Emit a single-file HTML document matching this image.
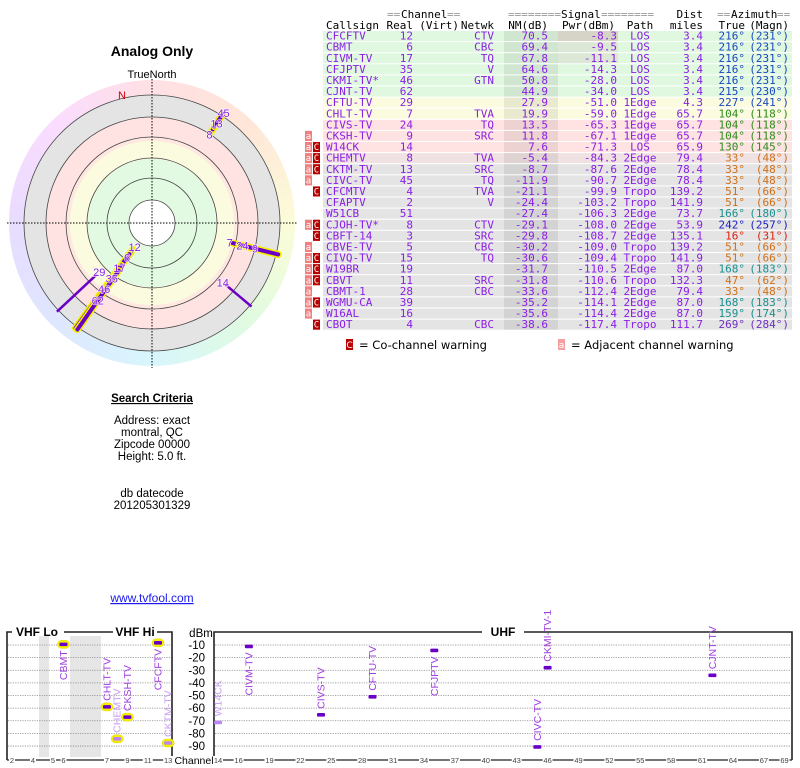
<!DOCTYPE html>
<html><head><meta charset="utf-8">
<style>
body{margin:0;background:#fff;width:800px;height:768px;overflow:hidden;position:relative;font-family:"Liberation Sans","DejaVu Sans",sans-serif}
#ring{position:absolute;left:9px;top:80px;width:286px;height:286px;border-radius:50%;
background:conic-gradient(from 0deg,#ffe0e4,#ffe6d8 45deg,#fbfcd8 90deg,#e0fbe0 135deg,#d8f6fc 180deg,#dfe6ff 225deg,#e8dcff 270deg,#fadcff 315deg,#ffe0e4 360deg)}
svg{position:absolute;left:0;top:0}
</style></head><body>
<div id="ring"></div>
<svg id="s" width="800" height="768"></svg>
<script>
const NS='http://www.w3.org/2000/svg';
const S=document.getElementById('s');
function el(t,a,p){const e=document.createElementNS(NS,t);for(const k in a)e.setAttribute(k,a[k]);(p||S).appendChild(e);return e;}
function tx(x,y,s,a,p){const e=el('text',Object.assign({x:x,y:y},a),p);e.textContent=s;return e;}

// ---------- table data ----------
const callsigns=["CFCFTV","CBMT","CIVM-TV","CFJPTV","CKMI-TV*","CJNT-TV","CFTU-TV","CHLT-TV","CIVS-TV","CKSH-TV","W14CK","CHEMTV","CKTM-TV","CIVC-TV","CFCMTV","CFAPTV","W51CB","CJOH-TV*","CBFT-14","CBVE-TV","CIVQ-TV","W19BR","CBVT","CBMT-1","WGMU-CA","W16AL","CBOT"];
const realCh=[12,6,17,35,46,62,29,7,24,9,14,8,13,45,4,2,51,8,3,5,15,19,11,28,39,16,4];
const netwk=["CTV","CBC","TQ","V","GTN","","","TVA","TQ","SRC","","TVA","SRC","TQ","TVA","V","","CTV","SRC","CBC","TQ","","SRC","CBC","","","CBC"];
const nmDb=[70.5,69.4,67.8,64.6,50.8,44.9,27.9,19.9,13.5,11.8,7.6,-5.4,-8.7,-11.9,-21.1,-24.4,-27.4,-29.1,-29.8,-30.2,-30.6,-31.7,-31.8,-33.6,-35.2,-35.6,-38.6];
const pwrDbm=[-8.3,-9.5,-11.1,-14.3,-28.0,-34.0,-51.0,-59.0,-65.3,-67.1,-71.3,-84.3,-87.6,-90.7,-99.9,-103.2,-106.3,-108.0,-108.7,-109.0,-109.4,-110.5,-110.6,-112.4,-114.1,-114.4,-117.4];
const pathType=["LOS","LOS","LOS","LOS","LOS","LOS","1Edge","1Edge","1Edge","1Edge","LOS","2Edge","2Edge","2Edge","Tropo","Tropo","2Edge","2Edge","2Edge","Tropo","Tropo","2Edge","Tropo","2Edge","2Edge","2Edge","Tropo"];
const distMi=[3.4,3.4,3.4,3.4,3.4,3.4,4.3,65.7,65.7,65.7,65.9,79.4,78.4,78.4,139.2,141.9,73.7,53.9,135.1,139.2,141.9,87.0,132.3,79.4,87.0,87.0,111.7];
const azTrue=[216,216,216,216,216,215,227,104,104,104,130,33,33,33,51,51,166,242,16,51,51,168,47,33,168,159,269];
const azMagn=[231,231,231,231,231,230,241,118,118,118,145,48,48,48,66,66,180,257,31,66,66,183,62,48,183,174,284];
const warnAdj=[0,0,0,0,0,0,0,0,0,1,1,1,1,1,0,0,0,1,0,1,1,1,1,1,1,1,0];
const warnCo=[0,0,0,0,0,0,0,0,0,0,1,1,1,0,1,0,0,1,1,0,1,1,1,0,1,0,1];

const MONO='"DejaVu Sans Mono","Liberation Mono",monospace';
const PURP='#8a1ee6';
function azColor(a){
  if(a>=200&&a<=235)return '#1848c0';
  if(a>=236&&a<=250)return '#2020c0';
  if(a>=90&&a<=140)return '#2e8c1c';
  if(a>=25&&a<=60)return '#d07018';
  if(a>=150&&a<=175)return '#1a9090';
  if(a<25)return '#e02010';
  return '#7030c0';
}
function rowBg(nm){if(nm>=40)return '#e0f8e0';if(nm>=15)return '#fafbdf';if(nm>=0)return '#ffe2e2';if(nm>=-8)return '#f0e2e2';return '#e4e4e4';}

// header
const hdr=el('g',{'font-family':MONO,'font-size':'11',});
tx(387,18,'==',{fill:'#999'},hdr);tx(401,18,'Channel',{fill:'#000'},hdr);tx(447,18,'==',{fill:'#999'},hdr);
tx(508,18,'========',{fill:'#999'},hdr);tx(561,18,'Signal',{fill:'#000'},hdr);tx(601,18,'========',{fill:'#999'},hdr);
tx(703,18,'Dist',{'text-anchor':'end',fill:'#000'},hdr);
tx(717,18,'==',{fill:'#999'},hdr);tx(731,18,'Azimuth',{fill:'#000'},hdr);tx(777,18,'==',{fill:'#999'},hdr);
tx(326,29,'Callsign',{fill:'#000'},hdr);tx(413,29,'Real',{'text-anchor':'end'},hdr);tx(459,29,'(Virt)',{'text-anchor':'end'},hdr);
tx(494,29,'Netwk',{'text-anchor':'end'},hdr);tx(548,29,'NM(dB)',{'text-anchor':'end'},hdr);tx(615,29,'Pwr(dBm)',{'text-anchor':'end'},hdr);
tx(640,29,'Path',{'text-anchor':'middle'},hdr);tx(703,29,'miles',{'text-anchor':'end'},hdr);
tx(745,29,'True',{'text-anchor':'end'},hdr);tx(789,29,'(Magn)',{'text-anchor':'end'},hdr);

const TOP=31,RH=11.1;
for(let i=0;i<callsigns.length;i++){
  const y=TOP+i*RH;
  const g=el('g',{'font-family':MONO,'font-size':'11'});
  
  
  el('rect',{x:323,y:y,width:469,height:RH-1,fill:rowBg(nmDb[i])},g);
  el('rect',{x:504,y:y,width:54,height:RH-1,fill:'#000','fill-opacity':'0.07'},g);
  if(i<3)el('rect',{x:558,y:y,width:60,height:RH-1,fill:i==0?'#c8a8a8':'#d8c0c0','fill-opacity':i==0?'0.45':'0.3'},g);
  const by=y+8.6;
  tx(326,by,callsigns[i],{fill:PURP},g);
  tx(413,by,String(realCh[i]),{fill:PURP,'text-anchor':'end'},g);
  tx(494,by,netwk[i],{fill:PURP,'text-anchor':'end'},g);
  tx(548,by,nmDb[i].toFixed(1),{fill:PURP,'text-anchor':'end'},g);
  tx(617,by,pwrDbm[i].toFixed(1),{fill:PURP,'text-anchor':'end'},g);
  tx(640,by,pathType[i],{fill:PURP,'text-anchor':'middle'},g);
  tx(703,by,distMi[i].toFixed(1),{fill:PURP,'text-anchor':'end'},g);
  const c=azColor(azTrue[i]);
  tx(745,by,azTrue[i]+'°',{fill:c,'text-anchor':'end'},g);
  tx(789,by,'('+azMagn[i]+'°)',{fill:c,'text-anchor':'end'},g);
  if(warnAdj[i]){const w=el('g',{},g);
    el('rect',{x:305,y:y,width:7,height:RH-1,fill:'#f08080'},w);tx(308.5,by-0.5,'a',{fill:'#fff','font-size':'9','text-anchor':'middle'},w);}
  if(warnCo[i]){const w=el('g',{},g);
    el('rect',{x:313,y:y,width:7,height:RH-1,fill:'#b80000'},w);tx(316.5,by-0.5,'C',{fill:'#fff','font-size':'9','text-anchor':'middle'},w);}
}
// legend
const lg=el('g',{'font-size':'11.5','font-family':'"DejaVu Sans","Liberation Sans",sans-serif',});
el('rect',{x:346,y:339,width:7,height:11,fill:'#b80000'},lg);tx(349.5,348,'C',{fill:'#fff','font-size':'9','text-anchor':'middle'},lg);
tx(359,349,'= Co-channel warning',{fill:'#000'},lg);
el('rect',{x:558,y:339,width:7,height:11,fill:'#f5a0a0'},lg);tx(561.5,348,'a',{fill:'#fff','font-size':'9','text-anchor':'middle'},lg);
tx(571,349,'= Adjacent channel warning',{fill:'#000'},lg);

// ---------- left texts ----------
tx(152,56,'Analog Only',{'text-anchor':'middle','font-size':'14','font-weight':'bold',});
tx(152,78,'TrueNorth',{'text-anchor':'middle','font-size':'11',});
const sc=el('g',{'font-size':'11.5','text-anchor':'middle',});
tx(152,402,'Search Criteria',{'font-weight':'bold','text-decoration':'underline'},sc);
['Address: exact','montral, QC','Zipcode 00000','Height: 5.0 ft.'].forEach((s,k)=>tx(152,424+k*12,s,{},sc));
tx(152,497,'db datecode',{},sc);tx(152,509,'201205301329',{},sc);
tx(152,602,'www.tvfool.com',{'text-anchor':'middle','font-size':'12','fill':'#1a1aee','text-decoration':'underline',});

// ---------- polar ----------
const CX=152,CY=223;
const pg=el('g',{});
el('circle',{cx:CX,cy:CY,r:128,fill:'#e4e4e4'},pg);
el('circle',{cx:CX,cy:CY,r:106,fill:'#ffe2e2'},pg);
el('circle',{cx:CX,cy:CY,r:84,fill:'#fbfbe0',stroke:'#ffe8e0','stroke-width':4},pg);
el('circle',{cx:CX,cy:CY,r:64,fill:'#e2fae2'},pg);
el('circle',{cx:CX,cy:CY,r:23,fill:'#fff'},pg);
[128,106,86,65,45,23].forEach(r=>el('circle',{cx:CX,cy:CY,r:r,fill:'none',stroke:'#444','stroke-width':0.8},pg));
el('line',{x1:7,y1:CY,x2:297,y2:CY,stroke:'#000','stroke-dasharray':'1.5,1.5','stroke-width':1},pg);
el('line',{x1:CX,y1:79,x2:CX,y2:368,stroke:'#000','stroke-dasharray':'1.5,1.5','stroke-width':1},pg);
tx(122,99,'N',{fill:'#cc0000','font-size':'11','text-anchor':'middle'},pg);

function rOf(nm){return Math.max(25,Math.min(126,103-nm));}
function pt(az,r){const a=az*Math.PI/180;return [CX+r*Math.sin(a),CY-r*Math.cos(a)];}
const spikes=[];
for(let i=0;i<callsigns.length;i++){if(nmDb[i]>-15)spikes.push(i);}
// label radii with spreading within same-direction groups
const labR={};
const sorted=spikes.slice().sort((a,b)=>rOf(nmDb[a])-rOf(nmDb[b]));
sorted.forEach(i=>{
  let r=rOf(nmDb[i]);
  sorted.forEach(j=>{if(j!==i&&labR[j]!==undefined&&Math.abs(azTrue[j]-azTrue[i])<=2&&r<labR[j]+13)r=labR[j]+13;});
  labR[i]=r;
});
const thin=[6,10];
spikes.forEach(i=>{
  const [x1,y1]=pt(azTrue[i],rOf(nmDb[i]));const [x2,y2]=pt(azTrue[i],130);
  const g=el('g',{},pg);
  if(thin.indexOf(i)<0){el('line',{x1:x1,y1:y1,x2:x2,y2:y2,stroke:'#f4f000','stroke-width':7,'stroke-linecap':'round'},g);
    el('line',{x1:x1,y1:y1,x2:x2,y2:y2,stroke:'#6a00c8','stroke-width':4,'stroke-linecap':'round'},g);}
  else el('line',{x1:x1,y1:y1,x2:x2,y2:y2,stroke:'#6a00c8','stroke-width':2.5},g);
});
spikes.forEach(i=>{const [x,y]=pt(azTrue[i],labR[i]-3);
  const t=tx(x,y+4,String(realCh[i]),{fill:PURP,'font-size':'11','text-anchor':'middle',stroke:'#fff','stroke-width':1.5,'stroke-opacity':'0.8','paint-order':'stroke'},pg);
  });

// ---------- spectrum ----------
const specCall=["CBMT","CHLT-TV","CHEMTV","CKSH-TV","CFCFTV","CKTM-TV","W14CK","CIVM-TV","CIVS-TV","CFTU-TV","CFJPTV","CIVC-TV","CKMI-TV-1","CJNT-TV"];
const specCh=[6,7,8,9,12,13,14,17,24,29,35,45,46,62];
const specPwr=[-9.5,-59.0,-84.3,-67.1,-8.3,-87.6,-71.3,-11.1,-65.3,-51.0,-14.3,-90.7,-28.0,-34.0];
const specFaded=[0,0,1,0,0,1,1,0,0,0,0,0,0,0];
const specHi=[1,1,1,1,1,1,0,0,0,0,0,0,0,0];
const dbTicks=[-10,-20,-30,-40,-50,-60,-70,-80,-90];
const vhfTicks=[2,4,5,6,7,9,11,13];
const uhfTicks=[14,16,19,22,25,28,31,34,37,40,43,46,49,52,55,58,61,64,67,69];

function yDb(v){return 645+(-10-v)*1.263;}
function xCh(ch){
  if(ch<=4)return 12+(ch-2)*10.5;
  if(ch<=6)return 53+(ch-5)*10.5;
  if(ch<=13)return 107+(ch-7)*10.2;
  return 218+(ch-14)*10.3;
}
const sp=el('g',{});
el('rect',{x:39,y:636,width:10,height:121,fill:'#e6e6e6'},sp);
el('rect',{x:70,y:636,width:31,height:121,fill:'#e6e6e6'},sp);
dbTicks.forEach(v=>{const y=yDb(v);
  el('line',{x1:8,y1:y,x2:172,y2:y,stroke:'#888','stroke-dasharray':'1.2,1.2','stroke-width':0.8},sp);
  el('line',{x1:215,y1:y,x2:791,y2:y,stroke:'#888','stroke-dasharray':'1.2,1.2','stroke-width':0.8},sp);
  tx(205,y+4,String(v),{'text-anchor':'end','font-size':'11.5'},sp);});
tx(201,637,'dBm',{'text-anchor':'middle','font-size':'11.5'},sp);
// frames
const fr={stroke:'#222','stroke-width':1.6,fill:'none'};
el('polyline',Object.assign({points:'7,760 7,632 12,632'},fr),sp);
el('line',Object.assign({x1:64,y1:632,x2:113,y2:632},fr),sp);
el('polyline',Object.assign({points:'157,632 172,632 172,760'},fr),sp);
el('polyline',Object.assign({points:'214,760 214,632 482,632'},fr),sp);
el('polyline',Object.assign({points:'524,632 792,632 792,760'},fr),sp);
tx(37,636,'VHF Lo',{'text-anchor':'middle','font-size':'12','font-weight':'bold'},sp);
tx(135,636,'VHF Hi',{'text-anchor':'middle','font-size':'12','font-weight':'bold'},sp);
tx(503,636,'UHF',{'text-anchor':'middle','font-size':'12','font-weight':'bold'},sp);
el('line',{x1:7,y1:760,x2:172,y2:760,stroke:'#222','stroke-width':1.2},sp);
el('line',{x1:214,y1:760,x2:792,y2:760,stroke:'#222','stroke-width':1.2},sp);
vhfTicks.concat(uhfTicks).forEach(c=>{const x=xCh(c);
  el('rect',{x:x-(c>9?5:3),y:756,width:c>9?10:6,height:9,fill:'#fff'},sp);
  tx(x,763,String(c),{'text-anchor':'middle','font-size':'7.5',fill:'#444'},sp);});
el('rect',{x:176,y:754,width:37,height:12,fill:'#fff'},sp);
tx(194,764,'Channel',{'text-anchor':'middle','font-size':'10.5'},sp);

for(let i=0;i<specCall.length;i++){
  const x=xCh(specCh[i]),y=yDb(specPwr[i]);
  const g=el('g',{},sp);
  
  
  if(specHi[i])el('rect',{x:x-6,y:y-4,width:12,height:8,rx:4,fill:'#f4f000',stroke:'#e0d800','stroke-width':0.5},g);
  el('rect',{x:x-4,y:y-1.8,width:8,height:3.6,rx:1,fill:specFaded[i]?'#b888f0':'#6a00c8'},g);
  const col=specFaded[i]?'#c8a0f0':'#a040e0';
  const below=specPwr[i]>-20;
  tx(0,0,specCall[i],{'font-size':'10.5',fill:col,'text-anchor':below?'end':'start',
    transform:'translate('+(x+3.5)+','+(below?y+6:y-6)+') rotate(-90)'},g);
}
</script>
</body></html>
